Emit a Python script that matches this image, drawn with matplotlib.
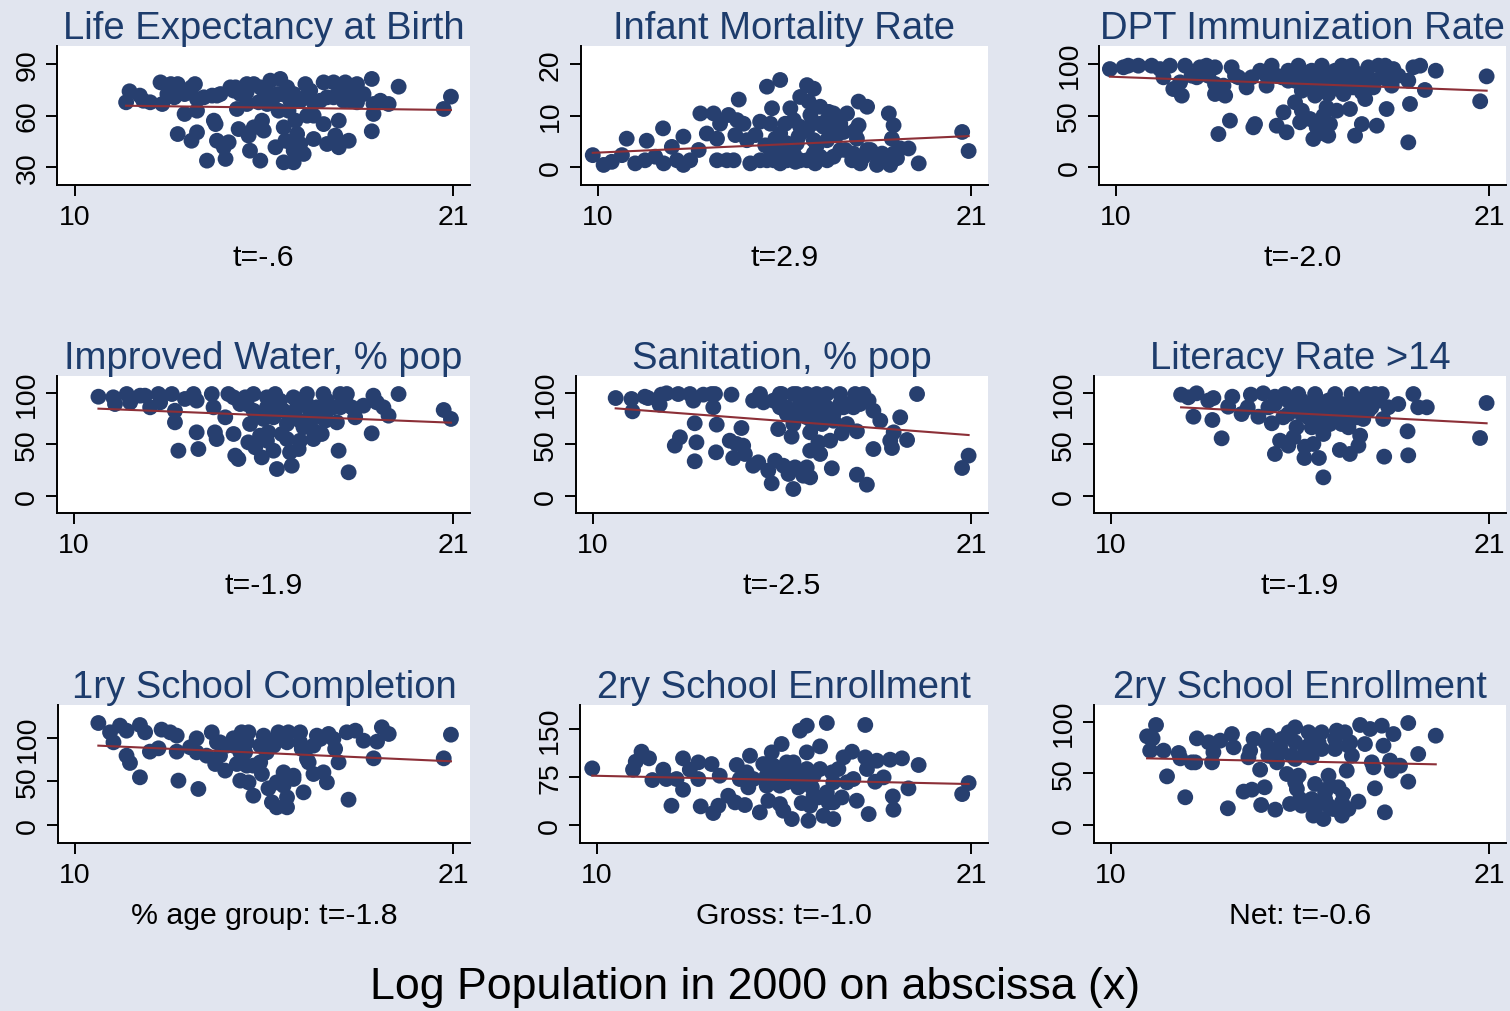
import numpy as np
import matplotlib.pyplot as plt

plt.rcParams['font.family'] = ['Liberation Sans', 'DejaVu Sans']

titles = ['Life Expectancy at Birth', 'Infant Mortality Rate', 'DPT Immunization Rate',
          'Improved Water, % pop', 'Sanitation, % pop', 'Literacy Rate >14',
          '1ry School Completion', '2ry School Enrollment', '2ry School Enrollment']
notes = ['t=-.6', 't=2.9', 't=-2.0', 't=-1.9', 't=-2.5', 't=-1.9',
         '% age group: t=-1.8', 'Gross: t=-1.0', 'Net: t=-0.6']
yticks = [[30, 60, 90], [0, 10, 20], [0, 50, 100], [0, 50, 100], [0, 50, 100],
          [0, 50, 100], [0, 50, 100], [0, 75, 150], [0, 50, 100]]
ylims = [(19.5, 100.5), (-3.5, 23.5), (-17.5, 117.5), (-16.5, 116.5), (-16.5, 116.5),
         (-16.5, 116.5), (-20.7, 137.9), (-28, 187.5), (-17.5, 116.5)]
xticks = [10, 21]

# fitted line values at the smallest and largest log population of each panel
fit_left = [65.7, 2.75, 87.7, 84.8, 85.1, 86.1, 91.2, 77.1, 64.7]
fit_right = [63.2, 6.0, 74.1, 71.2, 59.2, 70.6, 73.2, 64.1, 58.9]

# (log population, indicator)
life_exp = [(11.5, 67.7), (11.6, 74.1), (11.9, 71.6), (12.0, 68.6), (12.2, 67.7), (12.5, 79.3), (12.55, 66.7),
            (12.7, 72.5), (12.8, 78.3), (13.0, 78.3), (12.9, 70.6), (13.2, 72.5), (13.4, 76.4), (13.5, 78.3),
            (13.56, 69.6), (13.2, 60.9), (13.56, 62.8), (13.0, 49.2), (13.4, 45.3), (13.56, 50.2), (13.85, 33.7),
            (14.05, 57.0), (14.1, 55.0), (14.0, 71.6), (14.14, 71.6), (14.14, 45.3), (14.34, 41.5), (14.39, 34.7),
            (14.48, 44.4), (14.53, 76.4), (14.68, 76.4), (14.72, 63.8), (14.82, 72.5), (14.77, 52.1), (15.0, 73.5),
            (15.1, 39.5), (15.06, 48.3), (15.21, 78.3), (15.21, 53.1), (15.35, 67.7), (15.4, 33.7), (15.45, 57.0),
            (15.4, 76.4), (15.5, 51.2), (15.64, 72.5), (15.69, 80.3), (15.79, 70.6), (15.84, 41.5), (15.93, 62.8),
            (15.98, 81.3), (16.03, 72.5), (16.08, 53.1), (16.13, 45.3), (16.18, 76.4), (16.22, 62.8), (16.27, 68.6),
            (16.08, 32.7), (16.37, 32.7), (16.37, 39.5), (16.32, 43.4), (16.42, 57.0), (16.47, 49.2), (16.56, 68.6),
            (16.56, 43.4), (16.66, 37.6), (16.71, 78.3), (16.76, 59.9), (16.81, 73.5), (16.95, 59.9), (16.95, 46.3),
            (16.95, 67.7), (17.24, 79.3), (17.24, 55.0), (17.34, 43.4), (17.34, 70.6), (17.53, 79.3), (17.58, 48.3),
            (17.68, 57.0), (17.68, 41.5), (17.82, 68.6), (17.87, 79.3), (17.97, 45.3), (18.02, 68.6), (18.21, 78.3),
            (18.21, 67.7), (18.4, 72.5), (18.64, 81.3), (18.69, 66.7), (18.69, 60.9), (18.64, 50.8), (18.89, 68.6),
            (19.13, 66.7), (19.42, 76.8), (20.73, 63.8), (20.94, 71.0),
            (15.01, 66.7), (15.6, 66.7), (15.89, 72.5), (15.01, 78.3), (14.63, 74.5), (14.24, 72.5), (13.76, 70.6),
            (15.5, 74.5), (16.37, 72.5), (16.85, 74.5), (17.14, 68.6), (17.53, 70.6), (17.73, 74.5), (18.11, 74.5)]

infant_mort = [(9.86, 2.3), (10.18, 0.4), (10.42, 1.0), (10.72, 2.3), (10.86, 5.5), (11.11, 0.7), (11.40, 1.3),
               (11.45, 5.1), (11.70, 2.0), (11.93, 7.5), (11.95, 0.7), (12.19, 3.9), (12.34, 1.3), (12.53, 5.9),
               (12.53, 0.4), (12.73, 1.3), (12.98, 3.3), (13.03, 10.4), (13.22, 6.5), (13.42, 10.4), (13.52, 5.5),
               (13.52, 1.3), (13.61, 8.4), (13.81, 1.3), (13.86, 10.1), (14.01, 1.3), (14.06, 6.2), (14.11, 9.1),
               (14.16, 13.1), (14.30, 8.4), (14.40, 5.2), (14.50, 0.7), (14.65, 6.2), (14.79, 8.8), (14.94, 4.2),
               (14.99, 15.6), (15.09, 8.4), (15.14, 11.4), (15.19, 1.3), (15.24, 5.5), (15.38, 16.9), (15.43, 2.6),
               (15.53, 8.4), (15.68, 11.4), (15.78, 9.1), (15.83, 1.0), (15.92, 5.9), (15.97, 13.6), (15.97, 1.3),
               (16.17, 15.9), (16.22, 12.7), (16.27, 10.1), (16.32, 8.4), (16.37, 15.2), (16.41, 0.7), (16.46, 4.2),
               (16.56, 11.7), (16.66, 7.8), (16.76, 1.3), (16.81, 10.7), (16.95, 10.4), (17.05, 6.2), (17.15, 8.4),
               (17.25, 6.8), (17.30, 3.3), (17.35, 10.4), (17.50, 1.3), (17.59, 7.1), (17.64, 5.5), (17.69, 12.7),
               (17.69, 8.1), (17.74, 0.7), (17.94, 11.7), (17.94, 3.3), (18.13, 2.6), (18.23, 0.4), (18.38, 2.6),
               (18.58, 10.4), (18.62, 0.4), (18.67, 5.5), (18.72, 8.1), (18.72, 2.6), (18.82, 1.7), (18.92, 3.6),
               (19.16, 3.6), (19.46, 0.7), (20.74, 6.8), (20.93, 3.1),
               (14.99, 1.3), (15.38, 0.7), (15.58, 1.3), (15.78, 2.6), (16.17, 1.3), (16.37, 2.6), (16.56, 2.0),
               (16.95, 2.0), (17.15, 3.3), (17.54, 2.6), (17.84, 2.0), (18.04, 3.3), (15.19, 3.3), (14.79, 1.3),
               (15.58, 4.6), (15.87, 4.6), (16.37, 5.2), (16.76, 5.2), (15.97, 7.8), (16.56, 8.4), (16.95, 7.1),
               (16.17, 7.1), (15.38, 6.5), (16.76, 9.1)]

dpt_immun = [(9.82, 95.1), (10.22, 96.8), (10.36, 98.4), (10.66, 98.4), (11.05, 98.4), (11.30, 95.1), (11.40, 87.1),
             (11.59, 98.4), (11.69, 75.7), (11.89, 82.2), (11.94, 69.3), (12.04, 98.4), (12.23, 88.7), (12.38, 87.1),
             (12.48, 96.8), (12.67, 98.4), (12.72, 88.7), (12.92, 96.8), (12.92, 80.6), (12.92, 70.9), (13.02, 32.0),
             (13.17, 79.0), (13.22, 69.3), (13.36, 45.0), (13.41, 96.8), (13.51, 88.7), (13.61, 87.1), (13.85, 77.3),
             (14.00, 87.1), (14.05, 38.5), (14.10, 41.7), (14.25, 93.5), (14.40, 90.3), (14.44, 79.0), (14.59, 98.4),
             (14.74, 88.7), (14.74, 40.1), (14.94, 53.1), (15.03, 33.7), (15.08, 93.5), (15.28, 62.8), (15.33, 87.1),
             (15.38, 98.4), (15.43, 43.4), (15.48, 54.7), (15.58, 77.3), (15.72, 46.6), (15.77, 93.5), (15.82, 27.2),
             (15.87, 69.3), (15.92, 38.5), (15.97, 83.8), (16.07, 98.4), (16.12, 49.8), (16.17, 32.0), (16.21, 57.9),
             (16.26, 30.4), (16.31, 41.7), (16.36, 77.3), (16.46, 93.5), (16.51, 54.7), (16.66, 98.4), (16.71, 70.9),
             (16.85, 87.1), (16.90, 56.3), (16.95, 98.4), (17.00, 77.3), (17.05, 30.4), (17.15, 90.3), (17.25, 41.7),
             (17.35, 66.0), (17.44, 96.8), (17.59, 77.3), (17.64, 83.8), (17.69, 40.1), (17.74, 98.4), (17.94, 98.4),
             (17.98, 56.3), (18.13, 79.0), (18.18, 95.1), (18.33, 88.7), (18.62, 83.8), (18.67, 61.2), (18.62, 23.9),
             (18.77, 96.8), (18.97, 98.4), (19.11, 74.8), (19.43, 93.5), (20.74, 63.8), (20.93, 88.0),
             (14.89, 87.1), (15.28, 83.8), (15.67, 87.1), (16.07, 80.6), (16.46, 83.8), (16.85, 77.3), (17.25, 80.6),
             (15.48, 74.1), (16.26, 70.9), (15.87, 77.3), (16.66, 74.1), (17.25, 72.5), (15.08, 83.8), (15.48, 90.3),
             (15.87, 90.3), (16.26, 90.3), (16.66, 87.1), (17.05, 87.1), (17.44, 87.1), (17.84, 87.1), (18.03, 83.8)]

water = [(10.71, 96.4), (11.14, 95.8), (11.19, 89.3), (11.53, 99.0), (11.63, 90.9), (11.92, 97.4), (12.06, 97.4),
         (12.21, 86.1), (12.45, 99.0), (12.50, 90.9), (12.84, 99.0), (12.93, 82.8), (12.93, 71.5), (13.03, 44.0),
         (13.22, 94.2), (13.47, 99.0), (13.56, 92.6), (13.56, 61.8), (13.61, 45.6), (14.00, 99.0), (14.05, 86.1),
         (14.09, 61.8), (14.14, 55.3), (14.39, 76.4), (14.48, 99.0), (14.63, 60.2), (14.68, 39.2), (14.77, 35.9),
         (14.82, 89.3), (14.97, 95.8), (15.06, 52.1), (15.11, 69.9), (15.21, 99.0), (15.26, 47.2), (15.40, 58.6),
         (15.45, 37.5), (15.50, 74.8), (15.60, 95.8), (15.64, 61.8), (15.79, 44.0), (15.84, 99.0), (15.89, 26.2),
         (15.89, 86.1), (16.03, 60.2), (16.08, 82.8), (16.18, 55.3), (16.27, 42.4), (16.32, 29.4), (16.37, 95.8),
         (16.47, 86.1), (16.52, 45.6), (16.56, 73.1), (16.66, 66.7), (16.76, 99.0), (16.85, 82.8), (16.95, 55.3),
         (17.05, 86.1), (17.19, 60.2), (17.24, 99.0), (17.29, 73.1), (17.34, 82.8), (17.53, 86.1), (17.63, 71.5),
         (17.68, 44.0), (17.73, 99.0), (17.87, 92.6), (17.92, 99.0), (17.97, 23.0), (18.06, 86.1), (18.16, 76.4),
         (18.40, 87.7), (18.64, 60.8), (18.69, 97.4), (18.79, 90.9), (18.98, 86.1), (19.13, 78.0), (19.42, 99.0),
         (20.73, 83.5), (20.94, 74.8),
         (15.21, 82.8), (15.60, 86.1), (15.98, 92.6), (16.56, 92.6), (15.40, 79.6), (15.79, 76.4), (16.37, 79.6),
         (16.95, 76.4), (16.18, 69.9), (16.76, 89.3), (15.01, 89.3), (14.63, 95.8), (17.34, 92.6), (17.73, 86.1),
         (16.56, 53.7), (15.60, 53.7), (16.95, 63.4)]

sanitation = [(10.66, 95.1), (11.12, 94.2), (11.15, 82.2), (11.51, 96.4), (11.60, 95.1), (11.94, 88.7), (11.99, 98.4),
              (12.14, 99.7), (12.38, 48.9), (12.48, 99.0), (12.53, 57.0), (12.82, 99.0), (12.92, 92.6), (12.96, 70.6),
              (12.96, 33.7), (13.01, 52.1), (13.21, 98.4), (13.45, 99.0), (13.50, 86.1), (13.55, 99.0), (13.58, 42.4),
              (13.60, 69.3), (13.98, 53.7), (14.03, 98.4), (14.08, 36.9), (14.18, 50.5), (14.32, 66.0), (14.37, 48.9),
              (14.42, 40.8), (14.66, 92.6), (14.66, 29.4), (14.81, 32.7), (14.86, 99.0), (14.96, 90.9), (15.10, 24.6),
              (15.20, 12.3), (15.30, 34.3), (15.39, 65.0), (15.44, 86.1), (15.49, 99.0), (15.54, 29.4), (15.69, 21.4),
              (15.78, 57.6), (15.83, 6.8), (15.88, 27.8), (15.93, 99.0), (16.03, 79.6), (16.12, 19.7), (16.22, 27.8),
              (16.32, 61.8), (16.32, 18.1), (16.32, 44.0), (16.41, 86.1), (16.51, 99.0), (16.56, 52.1), (16.61, 40.8),
              (16.66, 69.9), (16.75, 86.1), (16.80, 99.0), (16.90, 53.7), (16.95, 26.9), (17.00, 79.6), (17.19, 99.0),
              (17.24, 60.8), (17.29, 86.1), (17.39, 69.9), (17.58, 86.1), (17.63, 99.0), (17.68, 62.8), (17.68, 20.7),
              (17.87, 99.0), (17.97, 11.0), (18.02, 92.6), (18.16, 45.6), (18.16, 82.8), (18.36, 73.1), (18.65, 53.7),
              (18.70, 46.6), (18.75, 61.8), (18.94, 76.4), (19.14, 54.4), (19.43, 99.0), (20.74, 27.2), (20.93, 39.2),
              (14.86, 95.1), (15.25, 92.6), (15.64, 86.1), (16.03, 89.3), (16.41, 92.6), (16.80, 86.1), (15.64, 79.6),
              (16.22, 76.4), (16.61, 76.4), (17.00, 73.1), (17.19, 89.3), (15.44, 99.0), (15.83, 99.0), (16.22, 99.0),
              (16.61, 92.6), (17.39, 89.3), (17.77, 89.3), (15.83, 69.9), (16.41, 69.9)]

literacy = [(12.04, 98.4), (12.25, 95.8), (12.49, 99.7), (12.40, 77.0), (12.83, 92.6), (12.98, 95.1), (12.95, 73.8),
            (13.22, 56.0), (13.41, 86.7), (13.53, 96.4), (13.80, 79.6), (13.98, 86.1), (14.07, 98.4), (14.29, 77.0),
            (14.43, 99.7), (14.58, 86.1), (14.68, 70.6), (14.77, 96.4), (14.77, 40.8), (14.92, 53.7), (15.01, 76.4),
            (15.06, 99.0), (15.16, 48.9), (15.31, 57.0), (15.35, 86.1), (15.40, 66.7), (15.45, 99.0), (15.55, 79.6),
            (15.64, 47.9), (15.63, 36.9), (15.74, 86.1), (15.84, 66.7), (15.89, 50.5), (15.94, 99.0), (16.03, 86.1),
            (16.05, 36.9), (16.13, 79.6), (16.18, 60.2), (16.18, 18.1), (16.32, 87.7), (16.37, 69.9), (16.52, 99.0),
            (16.61, 79.6), (16.66, 44.7), (16.71, 69.9), (16.91, 66.7), (16.95, 40.8), (17.00, 99.0), (17.05, 86.1),
            (17.15, 76.4), (17.20, 48.9), (17.25, 58.6), (17.29, 86.1), (17.34, 74.8), (17.44, 99.0), (17.58, 86.1),
            (17.68, 99.0), (17.88, 99.0), (17.92, 74.8), (17.95, 38.2), (18.07, 86.1), (18.36, 89.3), (18.63, 62.8),
            (18.65, 39.5), (18.80, 99.0), (18.94, 86.1), (19.19, 86.1), (20.74, 56.3), (20.93, 90.3),
            (14.77, 89.3), (15.16, 92.6), (15.55, 92.6), (15.94, 89.3), (16.32, 92.6), (16.71, 89.3), (17.10, 92.6),
            (17.49, 89.3), (15.16, 79.6), (15.74, 76.4), (16.32, 76.4), (16.91, 79.6), (17.49, 82.8), (17.78, 92.6),
            (16.13, 73.1), (16.52, 73.1)]

school1 = [(10.68, 117.2), (11.02, 106.5), (11.12, 95.0), (11.31, 114.2), (11.50, 108.4), (11.50, 79.7), (11.60, 71.3),
           (11.89, 114.9), (11.89, 54.8), (12.04, 106.5), (12.18, 84.3), (12.43, 88.1), (12.52, 109.6), (12.77, 106.5),
           (12.96, 84.3), (13.01, 51.0), (12.96, 102.7), (13.35, 89.3), (13.54, 99.6), (13.59, 41.4), (13.54, 83.5),
           (13.83, 79.7), (13.98, 106.5), (14.08, 70.1), (14.13, 95.0), (14.37, 62.5), (14.42, 91.2), (14.61, 99.6),
           (14.71, 70.1), (14.81, 51.0), (14.85, 106.5), (14.95, 83.5), (15.05, 49.0), (15.05, 106.5), (15.19, 33.7),
           (15.19, 68.2), (15.39, 72.0), (15.44, 58.6), (15.49, 102.7), (15.63, 42.1), (15.73, 26.1), (15.83, 96.9),
           (15.87, 20.3), (15.92, 106.5), (16.07, 60.5), (16.07, 45.2), (16.17, 31.8), (16.17, 20.3), (16.21, 106.5),
           (16.36, 52.9), (16.55, 106.5), (16.60, 87.4), (16.65, 37.5), (16.80, 72.0), (16.94, 58.6), (17.04, 102.7),
           (17.14, 98.9), (17.23, 60.5), (17.33, 49.0), (17.38, 104.6), (17.57, 87.4), (17.67, 72.0), (17.91, 106.5),
           (17.96, 29.1), (18.16, 108.4), (18.40, 96.9), (18.69, 76.6), (18.79, 95.8), (18.93, 112.3), (19.13, 104.6),
           (20.73, 76.6), (20.94, 103.8),
           (14.22, 95.0), (14.61, 91.2), (15.00, 95.0), (15.39, 91.2), (15.78, 91.2), (16.17, 95.0), (16.55, 95.0),
           (16.94, 91.2), (17.52, 98.9), (14.22, 79.7), (15.00, 68.2), (16.75, 75.9), (16.36, 56.7), (15.87, 49.0),
           (15.58, 83.5), (14.81, 83.5)]

school2_gross = [(9.86, 88.5), (11.06, 86.5), (11.14, 99.0), (11.31, 114.6), (11.53, 104.2), (11.63, 70.3), (11.95, 86.5),
                 (12.04, 71.9), (12.19, 30.2), (12.34, 71.9), (12.53, 55.2), (12.53, 104.2), (12.73, 86.5), (12.98, 97.9),
                 (12.98, 71.9), (13.05, 29.2), (13.37, 95.3), (13.42, 18.8), (13.57, 30.2), (13.61, 77.1), (13.86, 45.8),
                 (14.06, 35.4), (14.11, 93.8), (14.35, 31.3), (14.45, 58.9), (14.50, 108.3), (14.79, 19.8), (14.89, 95.3),
                 (15.04, 38.0), (15.14, 113.5), (15.19, 66.7), (15.38, 32.8), (15.43, 126.6), (15.48, 22.4), (15.58, 66.7),
                 (15.73, 9.4), (15.78, 97.9), (15.92, 58.9), (15.97, 147.4), (16.02, 34.4), (16.17, 155.2), (16.17, 113.5),
                 (16.22, 6.8), (16.27, 30.2), (16.32, 58.9), (16.37, 77.1), (16.51, 43.2), (16.56, 122.9), (16.66, 14.6),
                 (16.76, 159.4), (16.81, 35.4), (16.91, 82.3), (16.95, 9.4), (17.10, 87.5), (17.20, 43.2), (17.25, 105.7),
                 (17.35, 66.7), (17.50, 114.6), (17.54, 71.9), (17.64, 38.0), (17.89, 156.3), (17.89, 105.7), (17.94, 87.5),
                 (17.99, 17.2), (18.18, 67.7), (18.23, 100.5), (18.43, 74.5), (18.62, 102.1), (18.70, 44.8), (18.72, 24.0),
                 (18.97, 104.2), (19.16, 57.3), (19.46, 93.8), (20.74, 48.4), (20.93, 65.6),
                 (14.20, 71.9), (14.60, 71.9), (14.99, 77.1), (15.38, 82.3), (15.78, 82.3), (16.17, 87.5), (16.56, 87.5),
                 (16.95, 66.7), (14.40, 82.3), (15.38, 61.5), (14.99, 61.5), (15.97, 71.9), (16.37, 45.8), (16.76, 51.0),
                 (15.19, 92.7), (15.58, 97.9), (16.95, 35.4)]

school2_net = [(11.05, 86.1), (11.14, 72.2), (11.21, 84.1), (11.31, 97.1), (11.53, 72.2), (11.63, 47.2), (11.97, 69.9),
               (12.02, 64.7), (12.16, 26.9), (12.35, 60.8), (12.45, 60.8), (12.50, 84.1), (12.84, 80.3), (12.94, 60.8),
               (12.98, 70.6), (13.18, 81.9), (13.40, 16.2), (13.52, 88.3), (13.57, 75.4), (13.86, 32.4), (14.00, 65.7),
               (14.05, 72.2), (14.10, 34.3), (14.15, 83.5), (14.34, 53.7), (14.37, 19.4), (14.47, 36.6), (14.49, 80.3),
               (14.58, 86.7), (14.63, 67.3), (14.78, 14.9), (14.83, 60.8), (14.92, 77.0), (15.12, 49.5), (15.17, 90.0),
               (15.21, 20.4), (15.26, 67.3), (15.36, 94.8), (15.41, 35.0), (15.46, 47.9), (15.50, 25.2), (15.65, 72.2),
               (15.75, 90.0), (15.84, 65.7), (15.89, 9.1), (15.94, 39.8), (16.04, 80.3), (16.13, 90.0), (16.18, 5.8),
               (16.23, 25.2), (16.33, 47.9), (16.38, 38.2), (16.47, 15.5), (16.52, 73.8), (16.57, 91.6), (16.62, 36.6),
               (16.72, 9.1), (16.76, 30.1), (16.81, 90.0), (16.86, 52.8), (16.91, 15.5), (16.96, 80.3), (17.01, 67.3),
               (17.20, 22.7), (17.25, 97.1), (17.39, 78.6), (17.54, 93.2), (17.59, 60.8), (17.64, 56.0), (17.68, 35.6),
               (17.88, 96.4), (17.93, 77.0), (17.97, 12.3), (18.12, 62.5), (18.17, 52.8), (18.22, 88.3), (18.41, 57.6),
               (18.65, 99.0), (18.65, 42.1), (18.94, 68.9), (19.45, 86.7),
               (14.58, 73.8), (14.97, 70.6), (15.36, 80.3), (15.75, 77.0), (16.13, 73.8), (16.52, 83.5), (14.97, 83.5),
               (15.36, 64.1), (15.75, 67.3), (14.58, 67.3), (15.94, 15.5), (16.33, 18.8), (15.55, 18.8), (15.84, 25.2),
               (16.23, 31.7), (15.36, 41.4), (16.72, 22.0), (16.91, 77.0)]

datasets = [life_exp, infant_mort, dpt_immun, water, sanitation, literacy, school1, school2_gross, school2_net]

# layout in pixels: x position of the 10 and 21 ticks, and row top/bottom
W, H = 1510, 1012
tick_px = [(74.5, 453), (597.5, 971), (1116, 1489),
           (74, 453), (593, 971), (1111, 1489),
           (75, 453), (597, 971), (1111, 1489)]
rows_px = [(47, 186), (377, 514), (706, 844)]

bg = '#e1e5ef'
navy = '#273f6f'
title_col = '#1d3c6c'
line_col = '#8c2f37'

fig = plt.figure(figsize=(W / 100, H / 100), dpi=100, facecolor=bg)

for i, pts in enumerate(datasets):
    x10, x21 = tick_px[i]
    unit = (x21 - x10) / 11
    left, right = x10 - 0.5 * unit, x21 + 0.5 * unit
    top, bot = rows_px[i // 3]
    ax = fig.add_axes([left / W, 1 - bot / H, (right - left) / W, (bot - top) / H])
    pts = np.array(pts)
    ax.scatter(pts[:, 0], pts[:, 1], s=130, color=navy, edgecolors='none', zorder=2)
    xs = [pts[:, 0].min(), pts[:, 0].max()]
    ax.plot(xs, [fit_left[i], fit_right[i]], color=line_col, lw=1.5, zorder=3)
    ax.set_xlim(9.5, 21.5)
    ax.set_ylim(*ylims[i])
    ax.set_xticks(xticks)
    ax.set_yticks(yticks[i])
    for s in ['top', 'right']:
        ax.spines[s].set_visible(False)
    for s in ['left', 'bottom']:
        ax.spines[s].set_linewidth(1.4)
    ax.tick_params(length=8, width=1.4, labelsize=20.5, direction='out')
    ax.tick_params(axis='x', pad=6)
    ax.tick_params(axis='y', pad=4)
    for lab in ax.get_yticklabels():
        lab.set_rotation(90)
        lab.set_va('center')
    ax.set_title(titles[i], fontsize=27.5, color=title_col, pad=4)
    ax.set_xlabel(notes[i], fontsize=21.8, labelpad=9)

fig.text(0.5, 1 - 988 / H, 'Log Population in 2000 on abscissa (x)', ha='center', va='center', fontsize=32.2)

fig.savefig('out.png', dpi=100, facecolor=bg)
